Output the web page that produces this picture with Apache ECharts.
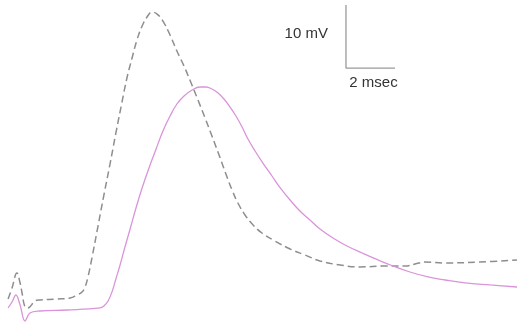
<!DOCTYPE html>
<html>
<head>
<meta charset="utf-8">
<script src="https://cdn.jsdelivr.net/npm/echarts@6/dist/echarts.min.js"></script>
<style>
  html, body { margin: 0; padding: 0; background: #fff; }
  #traceChart { width: 517px; height: 328px; }
</style>
</head>
<body>
<div id="traceChart"></div>
<script>
// time in msec, potential in mV (relative to the resting level)
var dashedTime = [0.33, 0.49, 0.69, 0.82, 0.90, 1.02, 1.14, 1.43, 1.63, 2.33, 2.86, 3.14, 3.35, 3.47, 3.59, 3.76, 4.00, 4.24, 4.49, 4.73, 4.98, 5.18, 5.39, 5.59, 5.80, 6.00, 6.20, 6.41, 6.65, 6.94, 7.22, 7.51, 7.80, 8.08, 8.37, 8.65, 8.94, 9.22, 9.47, 9.71, 10.00, 10.33, 10.69, 11.22, 11.84, 12.45, 13.06, 13.88, 14.69, 15.71, 16.53, 16.94, 17.35, 18.16, 19.59, 21.10];
var dashedMv = [1.75, 3.49, 5.87, 4.29, 2.70, 0.48, 0.32, 1.43, 1.59, 1.75, 1.90, 2.38, 2.86, 3.65, 5.24, 8.41, 13.33, 18.25, 23.17, 28.10, 33.02, 36.83, 40.00, 42.86, 45.08, 46.51, 47.30, 46.98, 45.87, 43.65, 41.11, 38.73, 36.03, 33.33, 30.48, 27.62, 24.60, 21.59, 19.05, 16.98, 15.08, 13.49, 12.22, 10.95, 9.68, 8.73, 7.78, 7.14, 6.83, 6.98, 6.98, 7.30, 7.62, 7.46, 7.62, 7.94];

var solidTime = [0.33, 0.49, 0.65, 0.82, 1.02, 1.22, 1.63, 2.73, 4.08, 4.24, 4.41, 4.57, 4.73, 4.90, 5.10, 5.31, 5.55, 5.80, 6.08, 6.37, 6.65, 6.94, 7.22, 7.51, 7.84, 8.16, 8.41, 8.65, 8.90, 9.14, 9.39, 9.63, 9.88, 10.12, 10.41, 10.73, 11.10, 11.47, 11.84, 12.24, 12.65, 13.06, 13.59, 14.16, 14.78, 15.43, 16.04, 16.73, 17.47, 18.16, 18.98, 20.00, 21.10];
var solidMv = [0.32, 1.27, 2.38, 0.79, -1.75, -0.48, -0.16, 0, 0.32, 0.63, 1.43, 2.86, 4.92, 7.14, 10.00, 12.86, 16.19, 19.37, 22.54, 25.56, 28.41, 30.79, 32.70, 33.97, 34.92, 35.40, 35.40, 35.08, 34.44, 33.49, 32.22, 30.79, 29.05, 27.14, 25.24, 23.33, 21.27, 19.21, 17.46, 15.71, 14.29, 12.86, 11.43, 10.16, 9.05, 7.94, 6.98, 6.03, 5.24, 4.76, 4.29, 3.97, 3.65];

// scale bar: 2 msec by 10 mV
var barTime = [14.12, 14.12, 16.12];
var barMv = [48.41, 38.41, 38.41];

function pairs(xs, ys) {
    return xs.map(function (x, i) { return [x, ys[i]]; });
}

var traceChart = echarts.init(document.getElementById('traceChart'));
var option = {
    animation: false,
    grid: { left: 0, right: 0, top: 0, bottom: 0 },
    xAxis: { type: 'value', min: 0, max: 21.1, show: false },
    yAxis: { type: 'value', min: -2.86, max: 49.21, show: false },
    series: [
        {
            name: 'dashed',
            type: 'line',
            showSymbol: false,
            smooth: 0.4,
            lineStyle: { color: '#8e8e8e', width: 1.5, type: [7, 4] },
            data: pairs(dashedTime, dashedMv)
        },
        {
            name: 'solid',
            type: 'line',
            showSymbol: false,
            smooth: 0.4,
            lineStyle: { color: '#da94da', width: 1.3 },
            data: pairs(solidTime, solidMv)
        },
        {
            name: 'scale',
            type: 'line',
            showSymbol: false,
            lineStyle: { color: '#9a9a9a', width: 1.3 },
            data: pairs(barTime, barMv)
        }
    ]
};
traceChart.setOption(option);

// bar labels placed next to the scale bar
var mid = traceChart.convertToPixel({ gridIndex: 0 }, [barTime[0], (barMv[0] + barMv[1]) / 2]);
var foot = traceChart.convertToPixel({ gridIndex: 0 }, [(barTime[1] + barTime[2]) / 2, barMv[1]]);
traceChart.setOption({
    graphic: [
        {
            type: 'text', x: mid[0] - 18, y: mid[1] - 3,
            style: { text: '10 mV', fill: '#333', font: '15px "Liberation Sans", Arial', align: 'right', verticalAlign: 'middle' }
        },
        {
            type: 'text', x: foot[0] + 3, y: foot[1] + 15,
            style: { text: '2 msec', fill: '#333', font: '15px "Liberation Sans", Arial', align: 'center', verticalAlign: 'middle' }
        }
    ]
});
</script>
</body>
</html>
